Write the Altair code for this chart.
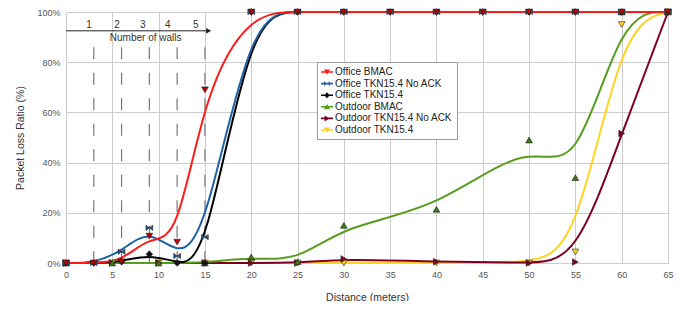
import altair as alt
import pandas as pd

FONT = "Liberation Sans"

# ---------------- data ----------------
office_x = [0, 3, 6, 9, 12, 15, 20, 25, 30, 35, 40, 45, 50, 55, 60, 65]
office_bmac = [0, 0, 0.5, 10.7, 8.3, 69, 100, 100, 100, 100, 100, 100, 100, 100, 100, 100]
office_tkn_noack = [0, 0, 4.5, 14, 2.8, 10.3, 100, 100, 100, 100, 100, 100, 100, 100, 100, 100]
office_tkn = [0, 0, 0.5, 3.5, 0, 0, 100, 100, 100, 100, 100, 100, 100, 100, 100, 100]

outdoor_x = [0, 5, 10, 15, 20, 25, 30, 40, 50, 55, 60, 65]
outdoor_bmac = [0, 0, 0, 0, 2.4, 0.5, 15, 21.4, 49, 34, 100, 100]
outdoor_tkn_noack = [0, 0, 0, 0, 0, 0, 1.6, 0.5, 0, 0.4, 51.6, 100]
outdoor_tkn = [0, 0, 0, 0, 0, 0, 0, 0, 0, 4.4, 95, 100]

series_names = [
    "Office BMAC",
    "Office TKN15.4 No ACK",
    "Office TKN15.4",
    "Outdoor BMAC",
    "Outdoor TKN15.4 No ACK",
    "Outdoor TKN15.4",
]
series_x = [office_x, office_x, office_x, outdoor_x, outdoor_x, outdoor_x]
series_y = [office_bmac, office_tkn_noack, office_tkn, outdoor_bmac, outdoor_tkn_noack, outdoor_tkn]

line_colors = ["#ff1a1a", "#1e62a6", "#000000", "#579d1c", "#7e0021", "#ffd320"]
marker_fills = ["#c00000", "#1e5a8e", "#111111", "#3f7a10", "#7e0021", "#ffd320"]
bowtie = "M-1,-0.8L0,0L-1,0.8Z M1,0.8L0,0L1,-0.8Z"
marker_shapes = ["triangle-down", bowtie, "diamond", "triangle-up", "triangle-right", "triangle-down"]

seg = "M-1,-0.13L1,-0.13L1,0.13L-1,0.13Z "
legend_paths = [
    seg + "M-0.5,-0.4L0.5,-0.4L0,0.45Z",
    seg + "M-0.5,-0.4L0,0L-0.5,0.4Z M0.5,0.4L0,0L0.5,-0.4Z",
    seg + "M0,-0.5L0.45,0L0,0.5L-0.45,0Z",
    seg + "M-0.5,0.4L0,-0.45L0.5,0.4Z",
    seg + "M-0.4,-0.5L0.45,0L-0.4,0.5Z",
    seg + "M-0.5,-0.4L0.5,-0.4L0,0.45Z",
]

# walls annotation
wall_x = [3, 6, 9, 12, 15]
wall_top = 86
wall_label_x = [2.5, 5.5, 8.3, 11.0, 14.0]
wall_labels = ["1", "2", "3", "4", "5"]
wall_label_y = 94.8
arrow_start, arrow_end, arrow_y = 0, 15.3, 92.5
walls_title = "Number of walls"
walls_title_x, walls_title_y = 8.6, 89.6

x_ticks = list(range(0, 66, 5))
y_ticks = [0, 20, 40, 60, 80, 100]

# ---------------- tables ----------------
rows = []
for name, xs, ys in zip(series_names, series_x, series_y):
    for xv, yv in zip(xs, ys):
        rows.append({"series": name, "x": xv, "y": yv})
df = pd.DataFrame(rows)

walls_df = pd.DataFrame({"x": wall_x, "top": [wall_top] * len(wall_x), "bottom": [0] * len(wall_x)})
wall_lab_df = pd.DataFrame({"x": wall_label_x, "y": [wall_label_y] * len(wall_label_x), "label": wall_labels})
arrow_df = pd.DataFrame({"x": [arrow_start], "x1": [arrow_end], "y": [arrow_y]})
head_df = pd.DataFrame({"x": [arrow_end + 0.1], "y": [arrow_y]})
wt_df = pd.DataFrame({"x": [walls_title_x], "y": [walls_title_y], "label": [walls_title]})

xscale = alt.Scale(domain=[0, 65], nice=False, zero=False)
yscale = alt.Scale(domain=[0, 100], nice=False)
xaxis = alt.Axis(values=x_ticks, title="Distance (meters)", grid=True, ticks=False, tickSize=0,
                 domain=False, labelPadding=7, labelFontSize=9, labelColor="#555", labelFont=FONT,
                 titleFont=FONT, titleFontSize=10.5, titleFontWeight="normal", titleColor="#333",
                 titleY=29, gridColor="#cccccc", labelFlush=False)
yaxis = alt.Axis(values=y_ticks, title="Packet Loss Ratio (%)", grid=True, ticks=False, tickSize=0,
                 domain=False, labelPadding=6, labelFontSize=9, labelColor="#555", labelFont=FONT,
                 labelExpr="datum.value + '%'", titleFont=FONT, titleFontSize=10.5,
                 titleFontWeight="normal", titleColor="#333", titleX=-41, titleY=125.5,
                 gridColor="#cccccc")


def X(field):
    return alt.X(f"{field}:Q", scale=xscale, axis=xaxis, title="Distance (meters)")


def Y(field):
    return alt.Y(f"{field}:Q", scale=yscale, axis=yaxis, title="Packet Loss Ratio (%)")


layers = []

# dashed wall lines
layers.append(
    alt.Chart(walls_df).mark_rule(color="#777777", strokeWidth=1.2, strokeDash=[12, 13.5]).encode(
        x=X("x"), y=Y("top"), y2="bottom")
)
# arrow
layers.append(alt.Chart(arrow_df).mark_rule(color="#222222", strokeWidth=1).encode(x=X("x"), x2="x1", y=Y("y")))
layers.append(alt.Chart(head_df).mark_point(shape="triangle-right", filled=True, size=32, color="#222222",
                                            opacity=1).encode(x=X("x"), y=Y("y")))
layers.append(alt.Chart(wall_lab_df).mark_text(font=FONT, fontSize=10, color="#333333").encode(
    x=X("x"), y=Y("y"), text="label:N"))
layers.append(alt.Chart(wt_df).mark_text(font=FONT, fontSize=10, color="#333333").encode(
    x=X("x"), y=Y("y"), text="label:N"))

# lines: draw outdoor first, Office BMAC last
for i in reversed(range(len(series_names))):
    name = series_names[i]
    layers.append(
        alt.Chart(df).transform_filter(alt.datum.series == name)
        .mark_line(color=line_colors[i], strokeWidth=2, interpolate="basis")
        .encode(x=X("x"), y=Y("y"), order="x:Q")
    )

# markers
for i in reversed(range(len(series_names))):
    name = series_names[i]
    layers.append(
        alt.Chart(df).transform_filter(alt.datum.series == name)
        .mark_point(shape=marker_shapes[i], filled=True, fill=marker_fills[i], stroke="#222222",
                    strokeWidth=0.6, size=45, opacity=1)
        .encode(x=X("x"), y=Y("y"))
    )

# invisible layer that only carries the legend
legend = alt.Legend(title=None, orient="none", legendX=251, legendY=50, fillColor="white",
                    strokeColor="#999999", padding=4, labelFont=FONT, labelFontSize=10,
                    labelColor="#222222", symbolSize=144, rowPadding=0.6, symbolOpacity=1,
                    symbolStrokeWidth=0, labelOffset=2, cornerRadius=0)
layers.append(
    alt.Chart(df).mark_point(filled=True, opacity=0).encode(
        x=X("x"), y=Y("y"),
        color=alt.Color("series:N", scale=alt.Scale(domain=series_names, range=line_colors), legend=legend),
        shape=alt.Shape("series:N", scale=alt.Scale(domain=series_names, range=legend_paths), legend=legend),
    )
)

chart = alt.layer(*layers).properties(
    width=602, height=251,
    autosize=alt.AutoSizeParams(type="none"),
    padding={"left": 58, "top": 4, "right": 20, "bottom": 38},
).configure_view(strokeWidth=0).configure(background="white")

chart.save("out.html", embed_options={"renderer": "svg", "actions": False})
